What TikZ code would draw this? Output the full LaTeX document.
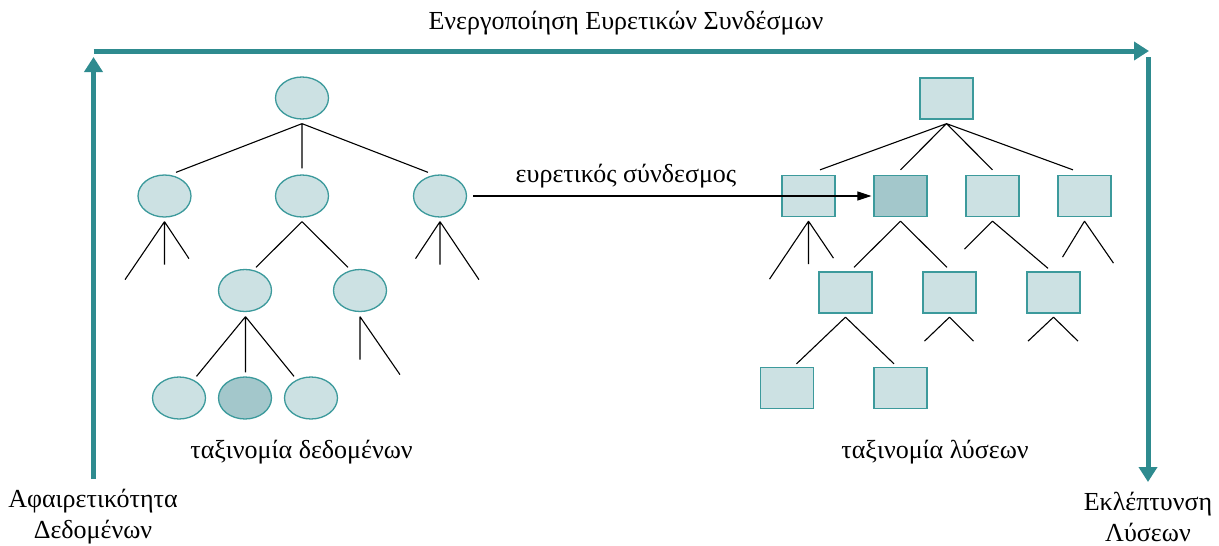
\documentclass[tikz,border=0pt]{standalone}
\usepackage{fontspec}
\setmainfont{Liberation Serif}
\usetikzlibrary{arrows.meta,calc,shapes.geometric}
\definecolor{tealbar}{HTML}{2E8B8F}
\definecolor{nodeedge}{HTML}{3C9A9C}
\definecolor{nodefill}{HTML}{CCE1E3}
\definecolor{nodedark}{HTML}{A3C7CB}
\begin{document}
\begin{tikzpicture}[x=1pt,y=-1pt,
  cls/.style={ellipse,draw=nodeedge,fill=nodefill,line width=1.3pt,minimum width=53pt,minimum height=42pt,inner sep=0pt},
  sol/.style={rectangle,draw=nodeedge,fill=nodefill,line width=1.3pt,minimum width=53pt,minimum height=41pt,inner sep=0pt},
  dark/.style={fill=nodedark},
  branch/.style={draw=black,line width=1.1pt},
  bar/.style={draw=tealbar,line width=5pt},
  bartip/.style={-{Triangle[width=18pt,length=15pt]}},
  lbl/.style={font=\fontsize{26}{31}\selectfont,inner sep=0pt,align=center}]
\useasboundingbox (0,0) rectangle (1219,546);

% data taxonomy (ellipses)
\node[cls] (L0) at (302,98) {};
\node[cls] (L1) at (164.5,196) {};
\node[cls] (L2) at (302,196) {};
\node[cls] (L3) at (440,196) {};
\node[cls] (L4) at (245,290.5) {};
\node[cls] (L5) at (360,290.5) {};
\node[cls] (L6) at (179,398) {};
\node[cls,dark] (L7) at (245,398) {};
\node[cls] (L8) at (311,398) {};

% solution taxonomy (squares)
\node[sol] (R0) at (946.5,98.5) {};
\node[sol] (R1) at (808.5,196) {};
\node[sol,dark] (R2) at (900.5,196) {};
\node[sol] (R3) at (992.5,196) {};
\node[sol] (R4) at (1084.5,196) {};
\node[sol] (R5) at (845.5,292.5) {};
\node[sol] (R6) at (949.5,292.5) {};
\node[sol] (R7) at (1053.5,292.5) {};
\node[sol] (R8) at (787,388) {};
\node[sol] (R9) at (900.5,388) {};

% branches of the data taxonomy
\path[branch] ($(L0.south)+(0,4)$) -- ($(L1.north)+(11.5,-2)$)
              ($(L0.south)+(0,4)$) -- ($(L2.north)+(0,-6)$)
              ($(L0.south)+(0,4)$) -- ($(L3.north)+(-12,-2)$);
\path[branch] ($(L1.south)+(0,4)$) -- ++(-39.5,58)
              ($(L1.south)+(0,4)$) -- ++(0,43)
              ($(L1.south)+(0,4)$) -- ++(24.5,37);
\path[branch] ($(L2.south)+(0,4)$) -- ($(L4.north)+(11,-1.5)$)
              ($(L2.south)+(0,4)$) -- ($(L5.north)+(-12,-1.5)$);
\path[branch] ($(L3.south)+(0,4)$) -- ++(-24.5,37)
              ($(L3.south)+(0,4)$) -- ++(0,43)
              ($(L3.south)+(0,4)$) -- ++(39,58);
\path[branch] ($(L4.south)+(0.5,4.5)$) -- ($(L6.north)+(17.5,0)$)
              ($(L4.south)+(0.5,4.5)$) -- ($(L7.north)+(0.5,-4)$)
              ($(L4.south)+(0.5,4.5)$) -- ($(L8.north)+(-17,0)$);
\path[branch] ($(L5.south)+(0,4.5)$) -- ++(0,43)
              ($(L5.south)+(0,4.5)$) -- ++(40,58);

% branches of the solution taxonomy
\path[branch] ($(R0.south)+(0,4)$) -- ($(R1.north)+(11.5,-5)$)
              ($(R0.south)+(0,4)$) -- ($(R2.north)+(0,-5)$)
              ($(R0.south)+(0,4)$) -- ($(R3.north)+(0,-5)$)
              ($(R0.south)+(0,4)$) -- ($(R4.north)+(-11.5,-5)$);
\path[branch] ($(R1.south)+(0,4)$) -- ++(-39,58)
              ($(R1.south)+(0,4)$) -- ++(0,43)
              ($(R1.south)+(0,4)$) -- ++(25,37);
\path[branch] ($(R2.south)+(0,4)$) -- ($(R5.north)+(8.5,-4)$)
              ($(R2.south)+(0,4)$) -- ($(R6.north)+(-2.5,-4)$);
\path[branch] ($(R3.south)+(0,4)$) -- ++(-28,28)
              ($(R3.south)+(0,4)$) -- ($(R7.north)+(-5.5,-3)$);
\path[branch] ($(R4.south)+(0,4)$) -- ++(-22,36)
              ($(R4.south)+(0,4)$) -- ++(29,42);
\path[branch] ($(R5.south)+(0,3.5)$) -- ($(R8.north)+(9.5,-3)$)
              ($(R5.south)+(0,3.5)$) -- ($(R9.north)+(-6.5,-3)$);
\path[branch] ($(R6.south)+(0,3.5)$) -- ++(-25,24)
              ($(R6.south)+(0,3.5)$) -- ++(24,24);
\path[branch] ($(R7.south)+(0,3.5)$) -- ++(-25.5,24)
              ($(R7.south)+(0,3.5)$) -- ++(24.5,24);

% heuristic link
\draw[line width=1.1pt,-{Triangle[width=9pt,length=14pt]}]
  ($(L3.east)+(6,0)$) -- ($(R2.west)+(-2,0)$);
\node[lbl] (link) at (626,176) {ευρετικός σύνδεσμος};

% taxonomy captions
\node[lbl] (datacap) at (301.5,452) {ταξινομία δεδομένων};
\node[lbl] (solcap) at (935,452) {ταξινομία λύσεων};

% outer process arrows
\coordinate (bl) at (93.5,479);
\coordinate (tl) at (93.5,57);
\coordinate (ts) at (93.5,51);
\coordinate (te) at (1149,51);
\coordinate (rs) at (1148,57);
\coordinate (re) at (1148,482);
\path[bar,bartip] (bl) -- (tl);
\path[bar,bartip] (ts) -- (te);
\path[bar,bartip] (rs) -- (re);

\node[lbl] (title) at (626,23) {Ενεργοποίηση Ευρετικών Συνδέσμων};
\node[lbl] (abst) at (93,517) {Αφαιρετικότητα\\Δεδομένων};
\node[lbl] (refine) at (1148,517) {Εκλέπτυνση\\Λύσεων};
\end{tikzpicture}
\end{document}
